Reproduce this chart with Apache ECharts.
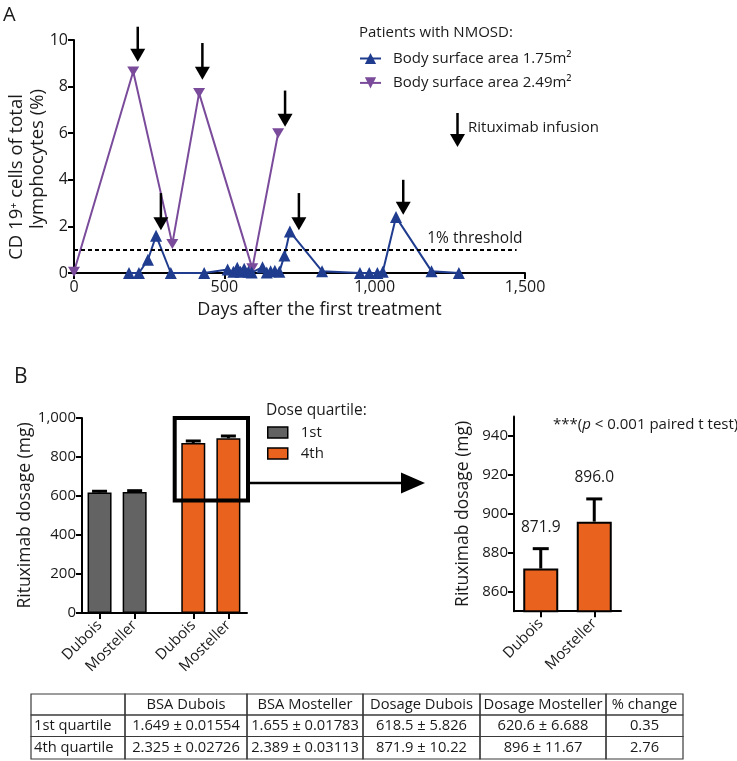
<!DOCTYPE html>
<html><head><meta charset="utf-8">
<script src="https://cdn.jsdelivr.net/npm/echarts@6/dist/echarts.min.js"></script>
<style>html,body{margin:0;padding:0;background:#fff}#c{width:737px;height:761px}</style>
</head><body><div id="c"></div>
<script>
// ---------- Panel A data ----------
const blueName = 'Body surface area 1.75m²';
const purpleName = 'Body surface area 2.49m²';
const blueDays   = [183, 216, 246, 273, 322, 433, 511, 530, 543, 554, 566, 580, 591, 627, 641, 654, 668, 683, 700, 718, 825, 951, 982, 1009, 1027, 1071, 1189, 1280];
const blueValues = [0,   0,   0.57, 1.6, 0,  0,   0.15, 0.05, 0.22, 0.05, 0.18, 0.05, 0.02, 0.25, 0.02, 0.08, 0.1, 0.05, 0.75, 1.78, 0.08, 0,  0,   0,    0.05, 2.4,  0.08, 0];
const purpleDays   = [0,    197,  327,  416,  593, 679];
const purpleValues = [0.05, 8.65, 1.25, 7.72, 0.2, 6.0];
const infusionDays = [212, 427, 702, 289, 748, 1095];
const infusionTip  = [9.07, 8.29, 6.28, 1.84, 1.84, 2.5];
const infusionTop  = [10.57, 9.87, 7.83, 3.43, 3.43, 4.0];
const thresholdValue = 1;
const thresholdEndDay = 1472;
const yTitleA = ['CD 19⁺ cells of total', 'lymphocytes (%)'];

// ---------- Panel B data ----------
const methodCategories = ['Dubois', 'Mosteller'];
const quartileNames = ['1st', '4th'];
const dose1st = [618.5, 620.6];
const err1st  = [5.826, 6.688];
const dose4th = [871.9, 896.0];
const err4th  = [10.22, 11.67];
const zoomTicks = [860, 880, 900, 920, 940];

// ---------- Table ----------
const tableHeader = ['', 'BSA Dubois', 'BSA Mosteller', 'Dosage Dubois', 'Dosage Mosteller', '% change'];
const tableRow1 = ['1st quartile', '1.649 ± 0.01554', '1.655 ± 0.01783', '618.5 ± 5.826', '620.6 ± 6.688', '0.35'];
const tableRow2 = ['4th quartile', '2.325 ± 0.02726', '2.389 ± 0.03113', '871.9 ± 10.22', '896 ± 11.67', '2.76'];

// ---------- layout ----------
const FONT = 'Open Sans';
const TXT = '#1a1a1a';
const BLUE = '#1f3c8f';
const PURPLE = '#7a4b9b';
const GRAY = '#636363';
const ORANGE = '#e9631f';
const barPosB = [1, 2, 3.67, 4.67];
const colX = [31, 125, 247, 363, 480, 606, 683];
const rowY = [694, 715, 736.5, 759];

const chart = echarts.init(document.getElementById('c'), null, {renderer: 'canvas'});

const axisLine = {show: true, onZero: false, lineStyle: {color: '#000', width: 2}};
const axisTick = {show: true, inside: false, length: 6, lineStyle: {color: '#000', width: 2}};
const comma = v => Number(v).toLocaleString('en-US');

function arrowItem(params, api) {
  const x = api.value(0), tip = api.value(1), top = api.value(2);
  const pt = api.coord([x, tip]);
  const p0 = api.coord([x, top]);
  return {type: 'group', children: [
    {type: 'line', shape: {x1: pt[0], y1: p0[1], x2: pt[0], y2: pt[1] - 10}, style: {stroke: '#000', lineWidth: 2.5}},
    {type: 'polygon', shape: {points: [[pt[0] - 7.5, pt[1] - 13], [pt[0] + 7.5, pt[1] - 13], [pt[0], pt[1]]]}, style: {fill: '#000'}}
  ]};
}
function errItem(capW, withLabel) {
  return function (params, api) {
    const x = api.value(0), v = api.value(1), e = api.value(2);
    const p = api.coord([x, v]);
    const q = api.coord([x, v + e]);
    const ch = [
      {type: 'line', shape: {x1: p[0], y1: p[1], x2: q[0], y2: q[1]}, style: {stroke: '#000', lineWidth: 3}},
      {type: 'line', shape: {x1: q[0] - capW / 2, y1: q[1], x2: q[0] + capW / 2, y2: q[1]}, style: {stroke: '#000', lineWidth: 3}}
    ];
    if (withLabel) {
      ch.push({type: 'text', x: q[0], y: q[1] - 21, style: {text: v.toFixed(1), fontFamily: FONT, fontSize: 15.5, fill: TXT, align: 'center', verticalAlign: 'middle'}});
    }
    return {type: 'group', children: ch};
  };
}

// table graphics
const tableEls = [];
const allRows = [tableHeader, tableRow1, tableRow2];
for (let r = 0; r < 3; r++) {
  for (let c = 0; c < 6; c++) {
    tableEls.push({type: 'rect', shape: {x: colX[c], y: rowY[r], width: colX[c + 1] - colX[c], height: rowY[r + 1] - rowY[r]},
      style: {fill: 'none', stroke: '#3a3a3a', lineWidth: 1.2}});
    const t = allRows[r][c];
    if (t) {
      const left = (c === 0);
      tableEls.push({type: 'text', x: left ? colX[c] + 3 : (colX[c] + colX[c + 1]) / 2, y: (rowY[r] + rowY[r + 1]) / 2,
        style: {text: t, fontFamily: FONT, fontSize: 14.7, fill: TXT, align: left ? 'left' : 'center', verticalAlign: 'middle'}});
    }
  }
}

const option = {
  backgroundColor: '#fff',
  animation: false,
  textStyle: {fontFamily: FONT, color: TXT},
  grid: [
    {left: 74, top: 40, width: 451, height: 233, outerBoundsMode: 'none', containLabel: false},
    {left: 82, top: 418, width: 165, height: 195, outerBoundsMode: 'none', containLabel: false},
    {left: 514, top: 416.5, width: 107, height: 194.7, outerBoundsMode: 'none', containLabel: false}
  ],
  xAxis: [
    {gridIndex: 0, type: 'value', min: 0, max: 1500, interval: 500, axisLine, axisTick, splitLine: {show: false},
      axisLabel: {fontSize: 16, color: TXT, margin: 6, formatter: comma},
      name: 'Days after the first treatment', nameLocation: 'middle', nameGap: 28,
      nameTextStyle: {fontSize: 18, color: TXT, padding: [0, 0, 0, 40]}},
    {gridIndex: 1, type: 'value', min: 0.5, max: 5.2, axisLine, splitLine: {show: false},
      axisTick: {show: true, length: 6, lineStyle: {color: '#000', width: 2}, customValues: barPosB},
      axisLabel: {fontSize: 15, color: TXT, rotate: 45, margin: 10, customValues: barPosB,
        formatter: v => {let i = 0, d = 1e9; barPosB.forEach((p, k) => {if (Math.abs(p - v) < d) {d = Math.abs(p - v); i = k;}}); return methodCategories[i % 2];}}},
    {gridIndex: 2, type: 'category', data: methodCategories, axisLine,
      axisTick: {show: true, alignWithLabel: true, length: 6, lineStyle: {color: '#000', width: 2}},
      axisLabel: {fontSize: 15, color: TXT, rotate: 45, margin: 10}}
  ],
  yAxis: [
    {gridIndex: 0, type: 'value', min: 0, max: 10, interval: 2, axisLine, axisTick, splitLine: {show: false},
      axisLabel: {fontSize: 16, color: TXT, margin: 6}},
    {gridIndex: 1, type: 'value', min: 0, max: 1000, interval: 200, axisLine, axisTick, splitLine: {show: false},
      axisLabel: {fontSize: 15, color: TXT, margin: 6, formatter: comma},
      name: 'Rituximab dosage (mg)', nameLocation: 'middle', nameGap: 44, nameRotate: 90,
      nameTextStyle: {fontSize: 17.5, color: TXT}},
    {gridIndex: 2, type: 'value', min: 850, max: 950, axisLine, splitLine: {show: false},
      axisTick: {show: true, length: 6, lineStyle: {color: '#000', width: 2}, customValues: zoomTicks},
      axisLabel: {fontSize: 15, color: TXT, margin: 6, customValues: zoomTicks},
      name: 'Rituximab dosage (mg)', nameLocation: 'middle', nameGap: 42, nameRotate: 90,
      nameTextStyle: {fontSize: 17.5, color: TXT}}
  ],
  legend: [
    {data: [blueName, purpleName], orient: 'vertical', left: 354, top: 46, itemWidth: 21, itemHeight: 14, itemGap: 9.4,
      textStyle: {fontSize: 15, color: TXT, fontFamily: FONT, lineHeight: 14, padding: [0, 0, 0, 7]}, selectedMode: false},
    {data: quartileNames, orient: 'vertical', left: 262, top: 420, itemWidth: 20, itemHeight: 11, itemGap: 6, icon: 'rect',
      itemStyle: {borderColor: '#000', borderWidth: 1.5},
      textStyle: {fontSize: 15, color: TXT, fontFamily: FONT, lineHeight: 11, padding: [0, 0, 0, 8]}, selectedMode: false}
  ],
  series: [
    {name: blueName, type: 'line', xAxisIndex: 0, yAxisIndex: 0,
      data: blueDays.map((d, i) => [d, blueValues[i]]),
      symbol: 'triangle', symbolSize: 12, lineStyle: {color: BLUE, width: 2}, itemStyle: {color: BLUE}, z: 3,
      markLine: {silent: true, symbol: 'none', lineStyle: {color: '#000', type: [4, 3], width: 2},
        label: {show: true, position: 'insideEndTop', formatter: '1% threshold', fontSize: 15.5, color: TXT, fontFamily: FONT, distance: [-6, 3]},
        data: [[{coord: [0, thresholdValue]}, {coord: [thresholdEndDay, thresholdValue]}]]}},
    {name: purpleName, type: 'line', xAxisIndex: 0, yAxisIndex: 0,
      data: purpleDays.map((d, i) => [d, purpleValues[i]]),
      symbol: 'path://M0,0L12,0L6,10Z', symbolSize: [12, 10], lineStyle: {color: PURPLE, width: 2}, itemStyle: {color: PURPLE}, z: 2},
    {name: 'infusion', type: 'custom', xAxisIndex: 0, yAxisIndex: 0, clip: false, z: 5,
      data: infusionDays.map((d, i) => [d, infusionTip[i], infusionTop[i]]), renderItem: arrowItem},
    {name: quartileNames[0], type: 'bar', xAxisIndex: 1, yAxisIndex: 1, barWidth: 24, barGap: '-100%',
      data: dose1st.map((v, i) => [barPosB[i], v]), itemStyle: {color: GRAY, borderColor: '#000', borderWidth: 1.5}},
    {name: quartileNames[1], type: 'bar', xAxisIndex: 1, yAxisIndex: 1, barWidth: 24, barGap: '-100%',
      data: dose4th.map((v, i) => [barPosB[i + 2], v]), itemStyle: {color: ORANGE, borderColor: '#000', borderWidth: 1.5}},
    {name: 'errB', type: 'custom', xAxisIndex: 1, yAxisIndex: 1, z: 4, renderItem: errItem(15, false),
      data: dose1st.map((v, i) => [barPosB[i], v, err1st[i]]).concat(dose4th.map((v, i) => [barPosB[i + 2], v, err4th[i]]))},
    {name: 'zoom4th', type: 'bar', xAxisIndex: 2, yAxisIndex: 2, barWidth: 35,
      data: dose4th, itemStyle: {color: ORANGE, borderColor: '#000', borderWidth: 2}},
    {name: 'errZoom', type: 'custom', xAxisIndex: 2, yAxisIndex: 2, z: 4, clip: false, renderItem: errItem(16, true),
      data: dose4th.map((v, i) => [i, v, err4th[i]])}
  ],
  graphic: [
    {type: 'text', x: 3, y: 5, style: {text: 'A', fontFamily: FONT, fontSize: 20, fill: TXT}},
    {type: 'text', x: 17, y: 177, rotation: Math.PI / 2, style: {text: yTitleA[0], fontFamily: FONT, fontSize: 18.5, fill: TXT, align: 'center', verticalAlign: 'middle'}},
    {type: 'text', x: 38, y: 159, rotation: Math.PI / 2, style: {text: yTitleA[1], fontFamily: FONT, fontSize: 18.5, fill: TXT, align: 'center', verticalAlign: 'middle'}},
    {type: 'text', x: 14, y: 367, style: {text: 'B', fontFamily: FONT, fontSize: 21, fill: TXT}},
    {type: 'text', x: 359, y: 33, style: {text: 'Patients with NMOSD:', fontFamily: FONT, fontSize: 15, fill: TXT, verticalAlign: 'middle'}},
    {type: 'line', shape: {x1: 457.5, y1: 113, x2: 457.5, y2: 138}, style: {stroke: '#000', lineWidth: 2.5}},
    {type: 'polygon', shape: {points: [[450, 134], [465, 134], [457.5, 147]]}, style: {fill: '#000'}},
    {type: 'text', x: 468, y: 128, style: {text: 'Rituximab infusion', fontFamily: FONT, fontSize: 15, fill: TXT, verticalAlign: 'middle'}},
    {type: 'text', x: 266, y: 411, style: {text: 'Dose quartile:', fontFamily: FONT, fontSize: 15.5, fill: TXT, verticalAlign: 'middle'}},
    {type: 'rect', shape: {x: 174.7, y: 418, width: 73.3, height: 82.5}, style: {fill: 'none', stroke: '#000', lineWidth: 4}, z: 10},
    {type: 'line', shape: {x1: 250, y1: 483, x2: 405, y2: 483}, style: {stroke: '#000', lineWidth: 2.5}},
    {type: 'polygon', shape: {points: [[401, 472.5], [425, 483], [401, 493.5]]}, style: {fill: '#000'}},
    {type: 'text', x: 553, y: 425, style: {text: '***({i|p} < 0.001 paired t test)', fontFamily: FONT, fontSize: 15, fill: TXT, verticalAlign: 'middle',
      rich: {i: {fontStyle: 'italic', fontFamily: FONT, fontSize: 15, fill: TXT}}}}
  ].concat(tableEls)
};
chart.setOption(option);
</script></body></html>
